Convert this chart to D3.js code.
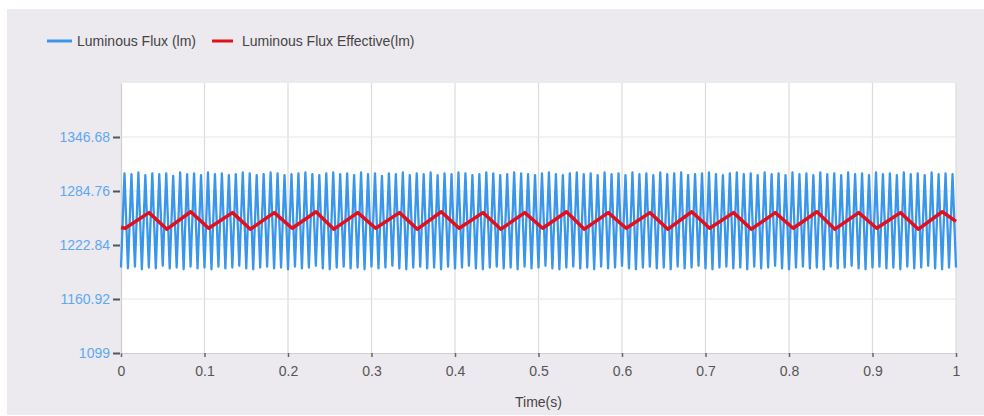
<!DOCTYPE html>
<html>
<head>
<meta charset="utf-8">
<script src="https://cdn.jsdelivr.net/npm/d3@7"></script>
<style>
	body { margin: 0; background: #ffffff; }
	svg text { font-family: "Liberation Sans", Arial, sans-serif; }
</style>
</head>
<body>
<svg id="chart" width="984" height="416"></svg>
<script>
// Luminous flux over one second, with the effective flux on top.

// Axis ticks.
var timeTicks = [0, 0.1, 0.2, 0.3, 0.4, 0.5, 0.6, 0.7, 0.8, 0.9, 1];
var fluxTicks = [1099, 1160.92, 1222.84, 1284.76, 1346.68];
var fluxDomain = [1099, 1408.6];

// Raw flux, one value every 1/240 s (alternating troughs and peaks).
var fluxStep = 1 / 240;
var fluxValues = [
	1197, 1305, 1196, 1304, 1198, 1306, 1195, 1303, 1197, 1305, 1196, 1304, 1199, 1305, 1196, 1302, 1197, 1306, 1195, 1304,
	1198, 1305, 1196, 1303, 1197, 1306, 1195, 1304, 1198, 1305, 1196, 1303, 1197, 1304, 1199, 1306, 1196, 1305, 1195, 1303,
	1197, 1304, 1198, 1306, 1196, 1305, 1197, 1303, 1195, 1304, 1198, 1305, 1196, 1306, 1197, 1304, 1199, 1303, 1196, 1305,
	1195, 1306, 1197, 1304, 1198, 1305, 1196, 1303, 1197, 1306, 1195, 1304, 1198, 1305, 1196, 1302, 1197, 1305, 1199, 1304,
	1196, 1306, 1195, 1303, 1197, 1305, 1198, 1304, 1196, 1306, 1197, 1303, 1195, 1305, 1198, 1304, 1196, 1306, 1197, 1305,
	1199, 1303, 1196, 1304, 1195, 1306, 1197, 1305, 1198, 1303, 1196, 1304, 1197, 1306, 1195, 1305, 1198, 1304, 1196, 1303,
	1197, 1305, 1199, 1306, 1196, 1304, 1195, 1303, 1197, 1305, 1198, 1306, 1196, 1304, 1197, 1305, 1195, 1303, 1198, 1306,
	1196, 1304, 1197, 1305, 1199, 1303, 1196, 1306, 1195, 1304, 1197, 1305, 1198, 1303, 1196, 1306, 1197, 1304, 1195, 1305,
	1198, 1306, 1196, 1303, 1197, 1304, 1199, 1305, 1196, 1306, 1195, 1304, 1197, 1303, 1198, 1305, 1196, 1306, 1197, 1304,
	1195, 1305, 1198, 1303, 1196, 1306, 1197, 1304, 1199, 1305, 1196, 1303, 1195, 1306, 1197, 1304, 1198, 1305, 1196, 1303,
	1197, 1306, 1195, 1304, 1198, 1305, 1196, 1303, 1197, 1306, 1199, 1304, 1196, 1305, 1195, 1303, 1197, 1306, 1198, 1304,
	1196, 1305, 1197, 1303, 1195, 1306, 1198, 1304, 1196, 1305, 1197, 1303, 1199, 1306, 1196, 1304, 1195, 1305, 1197, 1304,
	1197
];

// Effective flux, read at its corners.
var effectiveTimes = [
	0, 0.005, 0.0335, 0.055, 0.0835, 0.105, 0.1335, 0.155, 0.1835, 0.205, 0.2335, 0.255, 0.2835, 0.305,
	0.3335, 0.355, 0.3835, 0.405, 0.4335, 0.455, 0.4835, 0.505, 0.5335, 0.555, 0.5835, 0.605, 0.6335, 0.655,
	0.6835, 0.705, 0.7335, 0.755, 0.7835, 0.805, 0.8335, 0.855, 0.8835, 0.905, 0.9335, 0.955, 0.9835, 1
];
var effectiveValues = [
	1243, 1242, 1260, 1241, 1261, 1242, 1260, 1241, 1260, 1242, 1261, 1241, 1260, 1242,
	1260, 1241, 1261, 1242, 1260, 1241, 1260, 1242, 1261, 1241, 1260, 1242, 1260, 1241,
	1261, 1242, 1260, 1241, 1260, 1242, 1261, 1241, 1260, 1242, 1260, 1241, 1261, 1250
];

var legendItems = [
	{label: 'Luminous Flux (lm)', color: '#3a96ea', width: 2.3},
	{label: 'Luminous Flux Effective(lm)', color: '#e3101c', width: 3.5}
];

var svg = d3.select('#chart');
var plot = {left: 121, right: 956, top: 83, bottom: 353};

// Grey panel behind everything.
svg.append('rect')
	.attr('x', 7).attr('y', 9)
	.attr('width', 977).attr('height', 406)
	.attr('fill', '#ece9ef');
svg.append('rect')
	.attr('x', plot.left).attr('y', plot.top)
	.attr('width', plot.right - plot.left).attr('height', plot.bottom - plot.top)
	.attr('fill', '#ffffff');

var x = d3.scaleLinear().domain([0, 1]).range([plot.left, plot.right]);
var y = d3.scaleLinear().domain(fluxDomain).range([plot.bottom, plot.top]);

// Grid lines.
svg.append('g')
	.selectAll('line')
	.data(timeTicks.slice(1))
	.join('line')
	.attr('x1', function(d) { return x(d); })
	.attr('x2', function(d) { return x(d); })
	.attr('y1', plot.top).attr('y2', plot.bottom)
	.attr('stroke', '#dcdcdc').attr('stroke-width', 1.2);
svg.append('g')
	.selectAll('line')
	.data(fluxTicks.slice(1))
	.join('line')
	.attr('x1', plot.left).attr('x2', plot.right)
	.attr('y1', function(d) { return y(d); })
	.attr('y2', function(d) { return y(d); })
	.attr('stroke', '#e6e6e6').attr('stroke-width', 1);

// Axes.
var xAxis = svg.append('g')
	.attr('transform', 'translate(0,' + plot.bottom + ')')
	.call(d3.axisBottom(x).tickValues(timeTicks).tickFormat(d3.format('')).tickSizeInner(4).tickSizeOuter(0).tickPadding(9));
xAxis.select('.domain').attr('stroke', '#cfcfcf').attr('stroke-width', 1.2);
xAxis.selectAll('.tick line').attr('stroke', '#666').attr('stroke-width', 1.5);
xAxis.selectAll('.tick text').attr('fill', '#555').attr('font-size', 14);

var yAxis = svg.append('g')
	.attr('transform', 'translate(' + plot.left + ',0)')
	.call(d3.axisLeft(y).tickValues(fluxTicks).tickFormat(function(d) { return String(d); }).tickSizeInner(8).tickSizeOuter(0).tickPadding(3));
yAxis.select('.domain').attr('stroke', '#cfcfcf').attr('stroke-width', 1.2);
yAxis.selectAll('.tick line').attr('stroke', '#555').attr('stroke-width', 2).attr('x2', -1).attr('x1', -8);
yAxis.selectAll('.tick text').attr('fill', '#5ea8f2').attr('font-size', 14);

svg.append('text')
	.attr('x', (plot.left + plot.right) / 2).attr('y', 407)
	.attr('text-anchor', 'middle')
	.attr('fill', '#444').attr('font-size', 14)
	.text('Time(s)');

// Series.
var fluxLine = d3.line()
	.x(function(d, i) { return x(i * fluxStep); })
	.y(function(d) { return y(d); });
svg.append('path')
	.datum(fluxValues)
	.attr('d', fluxLine)
	.attr('fill', 'none')
	.attr('stroke', legendItems[0].color)
	.attr('stroke-width', legendItems[0].width)
	.attr('stroke-linejoin', 'round');

var effectiveLine = d3.line()
	.x(function(d, i) { return x(effectiveTimes[i]); })
	.y(function(d) { return y(d); });
svg.append('path')
	.datum(effectiveValues)
	.attr('d', effectiveLine)
	.attr('fill', 'none')
	.attr('stroke', legendItems[1].color)
	.attr('stroke-width', legendItems[1].width)
	.attr('stroke-linejoin', 'round');

// Legend.
var legendX = [47, 212];
var legend = svg.append('g')
	.selectAll('g')
	.data(legendItems)
	.join('g')
	.attr('transform', function(d, i) { return 'translate(' + legendX[i] + ',41)'; });
legend.append('line')
	.attr('x1', 0).attr('x2', function(d, i) { return i === 0 ? 25 : 21; })
	.attr('stroke', function(d) { return d.color; })
	.attr('stroke-width', 3);
legend.append('text')
	.attr('x', 30)
	.attr('y', 5)
	.attr('fill', '#444').attr('font-size', 14)
	.text(function(d) { return d.label; });
</script>
</body>
</html>
